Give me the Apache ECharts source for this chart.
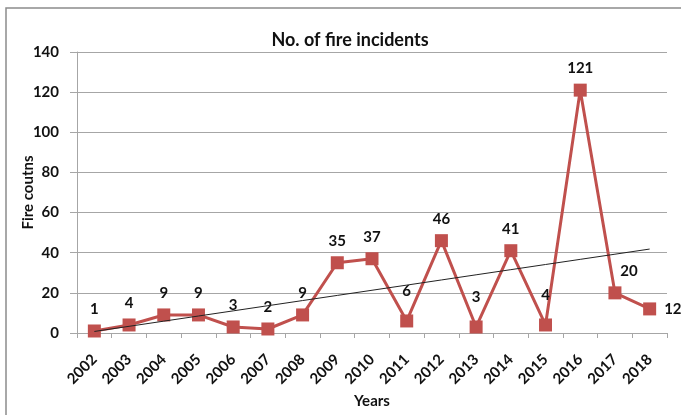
<!DOCTYPE html>
<html>
<head>
<meta charset="utf-8">
<script src="https://cdn.jsdelivr.net/npm/echarts@6/dist/echarts.min.js"></script>
<style>
  html, body { margin: 0; padding: 0; background: #fff; }
  #echarts { width: 681px; height: 415px; }
</style>
</head>
<body>
<div id="echarts"></div>
<script>
var years = ['2002', '2003', '2004', '2005', '2006', '2007', '2008', '2009', '2010',
             '2011', '2012', '2013', '2014', '2015', '2016', '2017', '2018'];
var fires = [1, 4, 9, 9, 3, 2, 9, 35, 37, 6, 46, 3, 41, 4, 121, 20, 12];
var yTicks = [0, 20, 40, 60, 80, 100, 120, 140];

window.onload = function () {
    // linear trendline (least squares, like Excel)
    var n = fires.length, sx = 0, sy = 0, sxy = 0, sxx = 0;
    for (var i = 0; i < n; i++) {
        var x = i + 1;
        sx += x; sy += fires[i]; sxy += x * fires[i]; sxx += x * x;
    }
    var slope = (n * sxy - sx * sy) / (n * sxx - sx * sx);
    var icpt = (sy - slope * sx) / n;
    var trend = fires.map(function (v, i) { return +(icpt + slope * (i + 1)).toFixed(3); });

    var font = 'Lato, "Open Sans", sans-serif';
    var fireData = fires.map(function (v, i) {
        var d = { value: v };
        if (i === n - 1) d.label = { position: 'right', distance: 8 };
        if (i === n - 2) d.label = { offset: [14, 0] };
        if (v < 7 && i > 8) d.label = { distance: 16 };
        return d;
    });

    var option = {
        animation: false,
        backgroundColor: '#fff',
        textStyle: { fontFamily: font },
        graphic: [{
            type: 'rect',
            shape: { x: 6, y: 8, width: 700, height: 450 },
            style: { fill: 'none', stroke: '#8c8c8c', lineWidth: 1.5 },
            silent: true
        }],
        title: {
            text: 'No. of fire incidents',
            left: 345, top: 26, textAlign: 'center',
            textStyle: { fontFamily: font, fontSize: 18, fontWeight: 'bold', color: '#111' }
        },
        grid: { left: 77, right: 14, top: 52, bottom: 82, containLabel: false, outerBoundsMode: 'none' },
        xAxis: {
            type: 'category',
            data: years,
            boundaryGap: true,
            name: 'Years',
            nameLocation: 'middle',
            nameGap: 61,
            nameMoveOverlap: false,
            nameTextStyle: { fontFamily: font, fontSize: 15, fontWeight: 'bold', color: '#111' },
            axisLine: { lineStyle: { color: '#a6a6a6', width: 1 } },
            axisTick: { show: true, length: 5, lineStyle: { color: '#a6a6a6' } },
            axisLabel: { rotate: 45, fontSize: 15, fontWeight: 'bold', color: '#111', margin: 24 }
        },
        yAxis: {
            type: 'value',
            min: yTicks[0], max: yTicks[yTicks.length - 1], interval: 20,
            name: 'Fire coutns',
            nameLocation: 'middle',
            nameGap: 41,
            nameMoveOverlap: false,
            nameTextStyle: { fontFamily: font, fontSize: 15, fontWeight: 'bold', color: '#111' },
            axisLine: { show: true, lineStyle: { color: '#a6a6a6', width: 1 } },
            axisTick: { show: true, length: 7, lineStyle: { color: '#a6a6a6' } },
            axisLabel: { fontSize: 15, fontWeight: 'bold', color: '#111', margin: 18 },
            splitLine: { lineStyle: { color: '#a6a6a6', width: 1 } }
        },
        series: [{
            type: 'line',
            data: fireData,
            symbol: 'rect',
            symbolSize: 13,
            itemStyle: { color: '#c0504d' },
            lineStyle: { color: '#c0504d', width: 3 },
            label: {
                show: true, position: 'top', distance: 8,
                fontFamily: font, fontSize: 15, fontWeight: 'bold', color: '#111'
            },
            z: 3
        }, {
            type: 'line',
            data: trend,
            symbol: 'none',
            silent: true,
            lineStyle: { color: '#222', width: 1 },
            z: 4
        }]
    };

    var mychart = echarts.init(document.getElementById('echarts'));
    mychart.setOption(option);
};
</script>
</body>
</html>
